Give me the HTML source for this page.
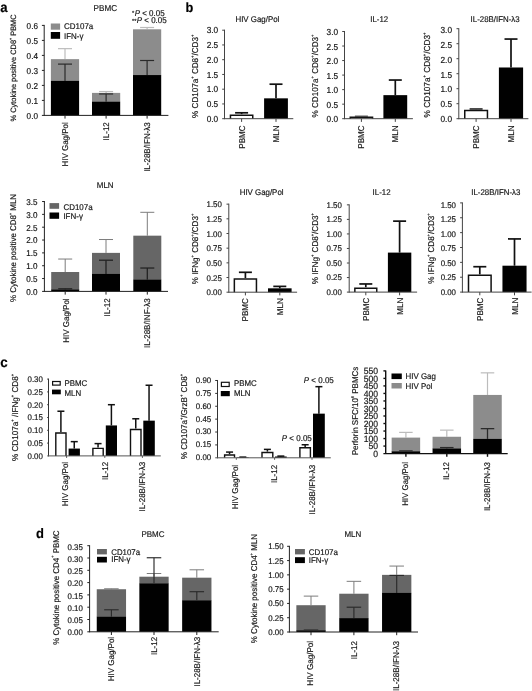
<!DOCTYPE html>
<html><head><meta charset="utf-8"><title>Figure</title>
<style>
html,body{margin:0;padding:0;background:#fff;}
body{width:532px;height:691px;overflow:hidden;font-family:"Liberation Sans",sans-serif;}
svg{display:block;will-change:transform;opacity:0.999;}
svg text{font-family:"Liberation Sans",sans-serif;stroke:#222;stroke-width:0.18px;text-rendering:geometricPrecision;}
</style></head><body>
<svg width="532" height="691" viewBox="0 0 532 691">
<rect x="0" y="0" width="532" height="691" fill="#fff"/>
<line x1="65.00" y1="59.15" x2="65.00" y2="48.65" stroke="#bcbcbc" stroke-width="1.2"/>
<line x1="58.00" y1="48.65" x2="72.00" y2="48.65" stroke="#bcbcbc" stroke-width="1.2"/>
<rect x="50.90" y="59.15" width="28.20" height="22.05" fill="#8c8c8c"/>
<rect x="50.90" y="80.90" width="28.20" height="34.50" fill="#000"/>
<line x1="65.00" y1="80.90" x2="65.00" y2="64.10" stroke="#2a2a2a" stroke-width="1.2"/>
<line x1="58.00" y1="64.10" x2="72.00" y2="64.10" stroke="#2a2a2a" stroke-width="1.2"/>
<line x1="106.10" y1="92.90" x2="106.10" y2="91.55" stroke="#bcbcbc" stroke-width="1.2"/>
<line x1="99.10" y1="91.55" x2="113.10" y2="91.55" stroke="#bcbcbc" stroke-width="1.2"/>
<rect x="92.00" y="92.90" width="28.20" height="9.15" fill="#8c8c8c"/>
<rect x="92.00" y="101.75" width="28.20" height="13.65" fill="#000"/>
<line x1="106.10" y1="101.75" x2="106.10" y2="93.95" stroke="#2a2a2a" stroke-width="1.2"/>
<line x1="99.10" y1="93.95" x2="113.10" y2="93.95" stroke="#2a2a2a" stroke-width="1.2"/>
<line x1="147.10" y1="29.30" x2="147.10" y2="27.50" stroke="#bcbcbc" stroke-width="1.2"/>
<line x1="140.10" y1="27.50" x2="154.10" y2="27.50" stroke="#bcbcbc" stroke-width="1.2"/>
<rect x="133.00" y="29.30" width="28.20" height="46.05" fill="#8c8c8c"/>
<rect x="133.00" y="75.05" width="28.20" height="40.35" fill="#000"/>
<line x1="147.10" y1="75.05" x2="147.10" y2="60.50" stroke="#2a2a2a" stroke-width="1.2"/>
<line x1="140.10" y1="60.50" x2="154.10" y2="60.50" stroke="#2a2a2a" stroke-width="1.2"/>
<line x1="44.20" y1="24.90" x2="44.20" y2="115.90" stroke="#222" stroke-width="1.0"/>
<line x1="41.90" y1="115.40" x2="168.40" y2="115.40" stroke="#222" stroke-width="1.0"/>
<text transform="translate(38.00 118.56) scale(0.9524 1)" font-size="8.61" text-anchor="end" fill="#111">0.0</text>
<line x1="41.90" y1="100.40" x2="44.20" y2="100.40" stroke="#222" stroke-width="1.0"/>
<text transform="translate(38.00 103.56) scale(0.9524 1)" font-size="8.61" text-anchor="end" fill="#111">0.1</text>
<line x1="41.90" y1="85.40" x2="44.20" y2="85.40" stroke="#222" stroke-width="1.0"/>
<text transform="translate(38.00 88.56) scale(0.9524 1)" font-size="8.61" text-anchor="end" fill="#111">0.2</text>
<line x1="41.90" y1="70.40" x2="44.20" y2="70.40" stroke="#222" stroke-width="1.0"/>
<text transform="translate(38.00 73.56) scale(0.9524 1)" font-size="8.61" text-anchor="end" fill="#111">0.3</text>
<line x1="41.90" y1="55.40" x2="44.20" y2="55.40" stroke="#222" stroke-width="1.0"/>
<text transform="translate(38.00 58.56) scale(0.9524 1)" font-size="8.61" text-anchor="end" fill="#111">0.4</text>
<line x1="41.90" y1="40.40" x2="44.20" y2="40.40" stroke="#222" stroke-width="1.0"/>
<text transform="translate(38.00 43.56) scale(0.9524 1)" font-size="8.61" text-anchor="end" fill="#111">0.5</text>
<line x1="41.90" y1="25.40" x2="44.20" y2="25.40" stroke="#222" stroke-width="1.0"/>
<text transform="translate(38.00 28.56) scale(0.9524 1)" font-size="8.61" text-anchor="end" fill="#111">0.6</text>
<line x1="65.00" y1="115.40" x2="65.00" y2="118.60" stroke="#222" stroke-width="1.0"/>
<line x1="106.10" y1="115.40" x2="106.10" y2="118.60" stroke="#222" stroke-width="1.0"/>
<line x1="147.10" y1="115.40" x2="147.10" y2="118.60" stroke="#222" stroke-width="1.0"/>
<rect x="50.80" y="23.50" width="9.30" height="6.20" fill="#8c8c8c"/>
<rect x="50.80" y="32.00" width="9.30" height="6.80" fill="#000"/>
<text transform="translate(64.00 28.70) scale(0.9524 1)" font-size="8.40" fill="#111">CD107a</text>
<text transform="translate(64.00 38.70) scale(0.9524 1)" font-size="8.40" fill="#111">IFN-&#947;</text>
<text transform="translate(105.30 10.60) scale(0.9524 1)" font-size="8.51" text-anchor="middle" fill="#111">PBMC</text>
<text transform="translate(164.60 15.80) scale(0.9524 1)" font-size="8.40" text-anchor="end" fill="#111"><tspan font-size="6" dy="-0.6">*</tspan><tspan dy="0.6" dx="0.4" font-style="italic">P</tspan> &lt; 0.05</text>
<text transform="translate(166.70 23.30) scale(0.9524 1)" font-size="8.40" text-anchor="end" fill="#111"><tspan font-size="6" dy="-0.6">**</tspan><tspan dy="0.6" dx="0.4" font-style="italic">P</tspan> &lt; 0.05</text>
<text transform="translate(15.50 67.90) rotate(-90) scale(0.9524 1)" font-size="7.77" text-anchor="middle" fill="#111">% Cytokine positive CD8<tspan dy="-3.89" font-size="3.89">+</tspan><tspan dy="3.89" font-size="7.77">&#8203;</tspan> PBMC</text>
<text transform="translate(67.91 122.20) rotate(-90) scale(0.9524 1)" font-size="8.40" text-anchor="end" fill="#111">HIV Gag/Pol</text>
<text transform="translate(109.11 122.20) rotate(-90) scale(0.9524 1)" font-size="8.40" text-anchor="end" fill="#111">IL-12</text>
<text transform="translate(150.31 122.20) rotate(-90) scale(0.9524 1)" font-size="8.40" text-anchor="end" fill="#111">IL-28B/IFN-&#955;3</text>
<text transform="translate(0.20 11.80) scale(0.9524 1)" font-size="13.86" font-weight="bold" fill="#000">a</text>
<line x1="65.20" y1="272.01" x2="65.20" y2="259.04" stroke="#7c7c7c" stroke-width="1.0"/>
<line x1="58.20" y1="259.04" x2="72.20" y2="259.04" stroke="#7c7c7c" stroke-width="1.0"/>
<rect x="51.20" y="272.01" width="28.00" height="17.76" fill="#666"/>
<rect x="51.20" y="289.47" width="28.00" height="1.93" fill="#000"/>
<line x1="65.20" y1="289.47" x2="65.20" y2="288.83" stroke="#222" stroke-width="1.3"/>
<line x1="58.20" y1="288.83" x2="72.20" y2="288.83" stroke="#222" stroke-width="1.3"/>
<line x1="106.00" y1="252.88" x2="106.00" y2="239.53" stroke="#7c7c7c" stroke-width="1.0"/>
<line x1="99.00" y1="239.53" x2="113.00" y2="239.53" stroke="#7c7c7c" stroke-width="1.0"/>
<rect x="92.00" y="252.88" width="28.00" height="21.36" fill="#666"/>
<rect x="92.00" y="273.94" width="28.00" height="17.46" fill="#000"/>
<line x1="106.00" y1="273.94" x2="106.00" y2="260.20" stroke="#222" stroke-width="1.3"/>
<line x1="99.00" y1="260.20" x2="113.00" y2="260.20" stroke="#222" stroke-width="1.3"/>
<line x1="147.30" y1="235.67" x2="147.30" y2="212.31" stroke="#7c7c7c" stroke-width="1.0"/>
<line x1="140.30" y1="212.31" x2="154.30" y2="212.31" stroke="#7c7c7c" stroke-width="1.0"/>
<rect x="133.30" y="235.67" width="28.00" height="44.34" fill="#666"/>
<rect x="133.30" y="279.72" width="28.00" height="11.68" fill="#000"/>
<line x1="147.30" y1="279.72" x2="147.30" y2="268.03" stroke="#222" stroke-width="1.3"/>
<line x1="140.30" y1="268.03" x2="154.30" y2="268.03" stroke="#222" stroke-width="1.3"/>
<line x1="44.40" y1="201.02" x2="44.40" y2="291.90" stroke="#222" stroke-width="1.0"/>
<line x1="42.10" y1="291.40" x2="168.00" y2="291.40" stroke="#222" stroke-width="1.0"/>
<text transform="translate(37.40 294.72) scale(0.9524 1)" font-size="8.51" text-anchor="end" fill="#111">0.0</text>
<line x1="42.10" y1="278.56" x2="44.40" y2="278.56" stroke="#222" stroke-width="1.0"/>
<text transform="translate(37.40 281.88) scale(0.9524 1)" font-size="8.51" text-anchor="end" fill="#111">0.5</text>
<line x1="42.10" y1="265.72" x2="44.40" y2="265.72" stroke="#222" stroke-width="1.0"/>
<text transform="translate(37.40 269.04) scale(0.9524 1)" font-size="8.51" text-anchor="end" fill="#111">1.0</text>
<line x1="42.10" y1="252.88" x2="44.40" y2="252.88" stroke="#222" stroke-width="1.0"/>
<text transform="translate(37.40 256.20) scale(0.9524 1)" font-size="8.51" text-anchor="end" fill="#111">1.5</text>
<line x1="42.10" y1="240.04" x2="44.40" y2="240.04" stroke="#222" stroke-width="1.0"/>
<text transform="translate(37.40 243.36) scale(0.9524 1)" font-size="8.51" text-anchor="end" fill="#111">2.0</text>
<line x1="42.10" y1="227.20" x2="44.40" y2="227.20" stroke="#222" stroke-width="1.0"/>
<text transform="translate(37.40 230.52) scale(0.9524 1)" font-size="8.51" text-anchor="end" fill="#111">2.5</text>
<line x1="42.10" y1="214.36" x2="44.40" y2="214.36" stroke="#222" stroke-width="1.0"/>
<text transform="translate(37.40 217.68) scale(0.9524 1)" font-size="8.51" text-anchor="end" fill="#111">3.0</text>
<line x1="42.10" y1="201.52" x2="44.40" y2="201.52" stroke="#222" stroke-width="1.0"/>
<text transform="translate(37.40 204.84) scale(0.9524 1)" font-size="8.51" text-anchor="end" fill="#111">3.5</text>
<line x1="65.20" y1="291.40" x2="65.20" y2="294.60" stroke="#222" stroke-width="1.0"/>
<line x1="106.00" y1="291.40" x2="106.00" y2="294.60" stroke="#222" stroke-width="1.0"/>
<line x1="147.30" y1="291.40" x2="147.30" y2="294.60" stroke="#222" stroke-width="1.0"/>
<rect x="49.50" y="203.10" width="9.60" height="5.70" fill="#666"/>
<rect x="49.50" y="212.50" width="9.60" height="6.30" fill="#000"/>
<text transform="translate(63.40 209.60) scale(0.9524 1)" font-size="8.40" fill="#111">CD107a</text>
<text transform="translate(63.40 218.80) scale(0.9524 1)" font-size="8.40" fill="#111">IFN-&#947;</text>
<text transform="translate(105.20 188.20) scale(0.9524 1)" font-size="8.40" text-anchor="middle" fill="#111">MLN</text>
<text transform="translate(16.30 248.00) rotate(-90) scale(0.9524 1)" font-size="8.29" text-anchor="middle" fill="#111">% Cytokine positive CD8<tspan dy="-4.15" font-size="4.15">+</tspan><tspan dy="4.15" font-size="8.29">&#8203;</tspan> MLN</text>
<text transform="translate(68.61 298.40) rotate(-90) scale(0.9524 1)" font-size="8.40" text-anchor="end" fill="#111">HIV Gag/Pol</text>
<text transform="translate(109.71 298.40) rotate(-90) scale(0.9524 1)" font-size="8.40" text-anchor="end" fill="#111">IL-12</text>
<text transform="translate(150.21 298.40) rotate(-90) scale(0.9524 1)" font-size="8.40" text-anchor="end" fill="#111">IL-28B/INF-&#955;3</text>
<line x1="241.60" y1="114.39" x2="241.60" y2="112.80" stroke="#111" stroke-width="1.7"/>
<line x1="235.10" y1="112.80" x2="248.10" y2="112.80" stroke="#111" stroke-width="1.7"/>
<rect x="229.70" y="114.39" width="23.80" height="4.31" fill="#fff"/>
<path d="M230.45 118.70 V115.14 H252.75 V118.70" fill="none" stroke="#111" stroke-width="1.5"/>
<line x1="276.00" y1="98.34" x2="276.00" y2="84.19" stroke="#111" stroke-width="1.7"/>
<line x1="269.50" y1="84.19" x2="282.50" y2="84.19" stroke="#111" stroke-width="1.7"/>
<rect x="264.10" y="98.34" width="23.80" height="20.36" fill="#000"/>
<line x1="224.50" y1="29.70" x2="224.50" y2="119.20" stroke="#444" stroke-width="1.0"/>
<line x1="222.20" y1="118.70" x2="293.30" y2="118.70" stroke="#444" stroke-width="1.0"/>
<text transform="translate(218.20 121.89) scale(0.9524 1)" font-size="8.72" text-anchor="end" fill="#111">0.0</text>
<line x1="222.20" y1="103.95" x2="224.50" y2="103.95" stroke="#444" stroke-width="1.0"/>
<text transform="translate(218.20 107.14) scale(0.9524 1)" font-size="8.72" text-anchor="end" fill="#111">0.5</text>
<line x1="222.20" y1="89.20" x2="224.50" y2="89.20" stroke="#444" stroke-width="1.0"/>
<text transform="translate(218.20 92.39) scale(0.9524 1)" font-size="8.72" text-anchor="end" fill="#111">1.0</text>
<line x1="222.20" y1="74.45" x2="224.50" y2="74.45" stroke="#444" stroke-width="1.0"/>
<text transform="translate(218.20 77.64) scale(0.9524 1)" font-size="8.72" text-anchor="end" fill="#111">1.5</text>
<line x1="222.20" y1="59.70" x2="224.50" y2="59.70" stroke="#444" stroke-width="1.0"/>
<text transform="translate(218.20 62.89) scale(0.9524 1)" font-size="8.72" text-anchor="end" fill="#111">2.0</text>
<line x1="222.20" y1="44.95" x2="224.50" y2="44.95" stroke="#444" stroke-width="1.0"/>
<text transform="translate(218.20 48.14) scale(0.9524 1)" font-size="8.72" text-anchor="end" fill="#111">2.5</text>
<line x1="222.20" y1="30.20" x2="224.50" y2="30.20" stroke="#444" stroke-width="1.0"/>
<text transform="translate(218.20 33.39) scale(0.9524 1)" font-size="8.72" text-anchor="end" fill="#111">3.0</text>
<line x1="241.60" y1="118.70" x2="241.60" y2="121.90" stroke="#444" stroke-width="1.0"/>
<line x1="276.00" y1="118.70" x2="276.00" y2="121.90" stroke="#444" stroke-width="1.0"/>
<text transform="translate(257.40 22.30) scale(0.9524 1)" font-size="8.29" text-anchor="middle" fill="#111">HIV Gag/Pol</text>
<text transform="translate(197.90 76.30) rotate(-90) scale(0.9524 1)" font-size="8.53" text-anchor="middle" fill="#111">% CD107a<tspan dy="-4.26" font-size="4.26">+</tspan><tspan dy="4.26" font-size="8.53">&#8203;</tspan> CD8<tspan dy="-4.26" font-size="4.26">+</tspan><tspan dy="4.26" font-size="8.53">&#8203;</tspan>/CD3<tspan dy="-4.26" font-size="4.26">+</tspan><tspan dy="4.26" font-size="8.53">&#8203;</tspan></text>
<text transform="translate(244.63 125.40) rotate(-90) scale(0.9524 1)" font-size="8.45" text-anchor="end" fill="#111">PBMC</text>
<text transform="translate(279.03 125.40) rotate(-90) scale(0.9524 1)" font-size="8.45" text-anchor="end" fill="#111">MLN</text>
<line x1="361.40" y1="116.52" x2="361.40" y2="116.52" stroke="#111" stroke-width="1.7"/>
<line x1="354.90" y1="116.52" x2="367.90" y2="116.52" stroke="#111" stroke-width="1.7"/>
<rect x="349.50" y="116.52" width="23.80" height="2.18" fill="#fff"/>
<path d="M350.25 118.70 V117.27 H372.55 V118.70" fill="none" stroke="#111" stroke-width="1.5"/>
<line x1="395.30" y1="95.15" x2="395.30" y2="80.04" stroke="#111" stroke-width="1.7"/>
<line x1="388.80" y1="80.04" x2="401.80" y2="80.04" stroke="#111" stroke-width="1.7"/>
<rect x="383.40" y="95.15" width="23.80" height="23.55" fill="#000"/>
<line x1="344.50" y1="30.99" x2="344.50" y2="119.20" stroke="#444" stroke-width="1.0"/>
<line x1="342.20" y1="118.70" x2="412.90" y2="118.70" stroke="#444" stroke-width="1.0"/>
<text transform="translate(338.10 122.29) scale(0.9524 1)" font-size="8.72" text-anchor="end" fill="#111">0.0</text>
<line x1="342.20" y1="104.17" x2="344.50" y2="104.17" stroke="#444" stroke-width="1.0"/>
<text transform="translate(338.10 107.76) scale(0.9524 1)" font-size="8.72" text-anchor="end" fill="#111">0.5</text>
<line x1="342.20" y1="89.63" x2="344.50" y2="89.63" stroke="#444" stroke-width="1.0"/>
<text transform="translate(338.10 93.22) scale(0.9524 1)" font-size="8.72" text-anchor="end" fill="#111">1.0</text>
<line x1="342.20" y1="75.09" x2="344.50" y2="75.09" stroke="#444" stroke-width="1.0"/>
<text transform="translate(338.10 78.69) scale(0.9524 1)" font-size="8.72" text-anchor="end" fill="#111">1.5</text>
<line x1="342.20" y1="60.56" x2="344.50" y2="60.56" stroke="#444" stroke-width="1.0"/>
<text transform="translate(338.10 64.15) scale(0.9524 1)" font-size="8.72" text-anchor="end" fill="#111">2.0</text>
<line x1="342.20" y1="46.03" x2="344.50" y2="46.03" stroke="#444" stroke-width="1.0"/>
<text transform="translate(338.10 49.62) scale(0.9524 1)" font-size="8.72" text-anchor="end" fill="#111">2.5</text>
<line x1="342.20" y1="31.49" x2="344.50" y2="31.49" stroke="#444" stroke-width="1.0"/>
<text transform="translate(338.10 35.08) scale(0.9524 1)" font-size="8.72" text-anchor="end" fill="#111">3.0</text>
<line x1="361.40" y1="118.70" x2="361.40" y2="121.90" stroke="#444" stroke-width="1.0"/>
<line x1="395.30" y1="118.70" x2="395.30" y2="121.90" stroke="#444" stroke-width="1.0"/>
<text transform="translate(379.20 22.30) scale(0.9524 1)" font-size="8.29" text-anchor="middle" fill="#111">IL-12</text>
<text transform="translate(317.80 76.00) rotate(-90) scale(0.9524 1)" font-size="8.48" text-anchor="middle" fill="#111">% CD107a<tspan dy="-4.24" font-size="4.24">+</tspan><tspan dy="4.24" font-size="8.48">&#8203;</tspan> CD8<tspan dy="-4.24" font-size="4.24">+</tspan><tspan dy="4.24" font-size="8.48">&#8203;</tspan>/CD3<tspan dy="-4.24" font-size="4.24">+</tspan><tspan dy="4.24" font-size="8.48">&#8203;</tspan></text>
<text transform="translate(364.43 125.40) rotate(-90) scale(0.9524 1)" font-size="8.45" text-anchor="end" fill="#111">PBMC</text>
<text transform="translate(398.33 125.40) rotate(-90) scale(0.9524 1)" font-size="8.45" text-anchor="end" fill="#111">MLN</text>
<line x1="476.10" y1="109.70" x2="476.10" y2="109.10" stroke="#111" stroke-width="1.7"/>
<line x1="469.60" y1="109.10" x2="482.60" y2="109.10" stroke="#111" stroke-width="1.7"/>
<rect x="464.00" y="109.70" width="24.20" height="9.00" fill="#fff"/>
<path d="M464.75 118.70 V110.45 H487.45 V118.70" fill="none" stroke="#111" stroke-width="1.5"/>
<line x1="511.00" y1="67.49" x2="511.00" y2="39.05" stroke="#111" stroke-width="1.7"/>
<line x1="504.50" y1="39.05" x2="517.50" y2="39.05" stroke="#111" stroke-width="1.7"/>
<rect x="498.90" y="67.49" width="24.20" height="51.21" fill="#000"/>
<line x1="458.80" y1="28.20" x2="458.80" y2="119.20" stroke="#444" stroke-width="1.0"/>
<line x1="456.50" y1="118.70" x2="528.40" y2="118.70" stroke="#444" stroke-width="1.0"/>
<text transform="translate(452.00 121.94) scale(0.9524 1)" font-size="8.72" text-anchor="end" fill="#111">0.0</text>
<line x1="456.50" y1="103.70" x2="458.80" y2="103.70" stroke="#444" stroke-width="1.0"/>
<text transform="translate(452.00 107.16) scale(0.9524 1)" font-size="8.72" text-anchor="end" fill="#111">0.5</text>
<line x1="456.50" y1="88.70" x2="458.80" y2="88.70" stroke="#444" stroke-width="1.0"/>
<text transform="translate(452.00 92.38) scale(0.9524 1)" font-size="8.72" text-anchor="end" fill="#111">1.0</text>
<line x1="456.50" y1="73.70" x2="458.80" y2="73.70" stroke="#444" stroke-width="1.0"/>
<text transform="translate(452.00 77.59) scale(0.9524 1)" font-size="8.72" text-anchor="end" fill="#111">1.5</text>
<line x1="456.50" y1="58.70" x2="458.80" y2="58.70" stroke="#444" stroke-width="1.0"/>
<text transform="translate(452.00 62.81) scale(0.9524 1)" font-size="8.72" text-anchor="end" fill="#111">2.0</text>
<line x1="456.50" y1="43.70" x2="458.80" y2="43.70" stroke="#444" stroke-width="1.0"/>
<text transform="translate(452.00 48.03) scale(0.9524 1)" font-size="8.72" text-anchor="end" fill="#111">2.5</text>
<line x1="456.50" y1="28.70" x2="458.80" y2="28.70" stroke="#444" stroke-width="1.0"/>
<text transform="translate(452.00 33.24) scale(0.9524 1)" font-size="8.72" text-anchor="end" fill="#111">3.0</text>
<line x1="476.10" y1="118.70" x2="476.10" y2="121.90" stroke="#444" stroke-width="1.0"/>
<line x1="511.00" y1="118.70" x2="511.00" y2="121.90" stroke="#444" stroke-width="1.0"/>
<text transform="translate(495.10 22.30) scale(0.9524 1)" font-size="8.29" text-anchor="middle" fill="#111">IL-28B/IFN-&#955;3</text>
<text transform="translate(430.30 75.00) rotate(-90) scale(0.9524 1)" font-size="8.68" text-anchor="middle" fill="#111">% CD107a<tspan dy="-4.34" font-size="4.34">+</tspan><tspan dy="4.34" font-size="8.68">&#8203;</tspan> CD8<tspan dy="-4.34" font-size="4.34">+</tspan><tspan dy="4.34" font-size="8.68">&#8203;</tspan>/CD3<tspan dy="-4.34" font-size="4.34">+</tspan><tspan dy="4.34" font-size="8.68">&#8203;</tspan></text>
<text transform="translate(479.13 125.40) rotate(-90) scale(0.9524 1)" font-size="8.45" text-anchor="end" fill="#111">PBMC</text>
<text transform="translate(514.03 125.40) rotate(-90) scale(0.9524 1)" font-size="8.45" text-anchor="end" fill="#111">MLN</text>
<line x1="245.40" y1="278.29" x2="245.40" y2="272.30" stroke="#111" stroke-width="1.7"/>
<line x1="238.90" y1="272.30" x2="251.90" y2="272.30" stroke="#111" stroke-width="1.7"/>
<rect x="233.60" y="278.29" width="23.60" height="13.91" fill="#fff"/>
<path d="M234.35 292.20 V279.04 H256.45 V292.20" fill="none" stroke="#111" stroke-width="1.5"/>
<line x1="279.80" y1="288.33" x2="279.80" y2="286.39" stroke="#111" stroke-width="1.7"/>
<line x1="273.30" y1="286.39" x2="286.30" y2="286.39" stroke="#111" stroke-width="1.7"/>
<rect x="268.00" y="288.33" width="23.60" height="3.87" fill="#000"/>
<line x1="228.80" y1="203.65" x2="228.80" y2="292.70" stroke="#444" stroke-width="1.0"/>
<line x1="226.50" y1="292.20" x2="297.10" y2="292.20" stroke="#444" stroke-width="1.0"/>
<text transform="translate(221.90 295.44) scale(0.9524 1)" font-size="8.29" text-anchor="end" fill="#111">0.00</text>
<line x1="226.50" y1="277.52" x2="228.80" y2="277.52" stroke="#444" stroke-width="1.0"/>
<text transform="translate(221.90 280.77) scale(0.9524 1)" font-size="8.29" text-anchor="end" fill="#111">0.25</text>
<line x1="226.50" y1="262.85" x2="228.80" y2="262.85" stroke="#444" stroke-width="1.0"/>
<text transform="translate(221.90 266.09) scale(0.9524 1)" font-size="8.29" text-anchor="end" fill="#111">0.50</text>
<line x1="226.50" y1="248.17" x2="228.80" y2="248.17" stroke="#444" stroke-width="1.0"/>
<text transform="translate(221.90 251.42) scale(0.9524 1)" font-size="8.29" text-anchor="end" fill="#111">0.75</text>
<line x1="226.50" y1="233.50" x2="228.80" y2="233.50" stroke="#444" stroke-width="1.0"/>
<text transform="translate(221.90 236.74) scale(0.9524 1)" font-size="8.29" text-anchor="end" fill="#111">1.00</text>
<line x1="226.50" y1="218.82" x2="228.80" y2="218.82" stroke="#444" stroke-width="1.0"/>
<text transform="translate(221.90 222.07) scale(0.9524 1)" font-size="8.29" text-anchor="end" fill="#111">1.25</text>
<line x1="226.50" y1="204.15" x2="228.80" y2="204.15" stroke="#444" stroke-width="1.0"/>
<text transform="translate(221.90 207.39) scale(0.9524 1)" font-size="8.29" text-anchor="end" fill="#111">1.50</text>
<line x1="245.40" y1="292.20" x2="245.40" y2="295.40" stroke="#444" stroke-width="1.0"/>
<line x1="279.80" y1="292.20" x2="279.80" y2="295.40" stroke="#444" stroke-width="1.0"/>
<text transform="translate(261.60 195.30) scale(0.9524 1)" font-size="8.29" text-anchor="middle" fill="#111">HIV Gag/Pol</text>
<text transform="translate(198.10 249.00) rotate(-90) scale(0.9524 1)" font-size="8.45" text-anchor="middle" fill="#111">% IFNg<tspan dy="-4.23" font-size="4.23">+</tspan><tspan dy="4.23" font-size="8.45">&#8203;</tspan> CD8<tspan dy="-4.23" font-size="4.23">+</tspan><tspan dy="4.23" font-size="8.45">&#8203;</tspan>/CD3<tspan dy="-4.23" font-size="4.23">+</tspan><tspan dy="4.23" font-size="8.45">&#8203;</tspan></text>
<text transform="translate(248.43 298.20) rotate(-90) scale(0.9524 1)" font-size="8.45" text-anchor="end" fill="#111">PBMC</text>
<text transform="translate(282.83 298.20) rotate(-90) scale(0.9524 1)" font-size="8.45" text-anchor="end" fill="#111">MLN</text>
<line x1="365.80" y1="287.50" x2="365.80" y2="283.96" stroke="#111" stroke-width="1.7"/>
<line x1="359.30" y1="283.96" x2="372.30" y2="283.96" stroke="#111" stroke-width="1.7"/>
<rect x="354.10" y="287.50" width="23.40" height="4.60" fill="#fff"/>
<path d="M354.85 292.10 V288.25 H376.75 V292.10" fill="none" stroke="#111" stroke-width="1.5"/>
<line x1="399.60" y1="252.60" x2="399.60" y2="221.13" stroke="#111" stroke-width="1.7"/>
<line x1="393.10" y1="221.13" x2="406.10" y2="221.13" stroke="#111" stroke-width="1.7"/>
<rect x="387.90" y="252.60" width="23.40" height="39.50" fill="#000"/>
<line x1="349.20" y1="204.35" x2="349.20" y2="292.60" stroke="#444" stroke-width="1.0"/>
<line x1="346.90" y1="292.10" x2="417.10" y2="292.10" stroke="#444" stroke-width="1.0"/>
<text transform="translate(341.90 294.94) scale(0.9524 1)" font-size="8.29" text-anchor="end" fill="#111">0.00</text>
<line x1="346.90" y1="277.56" x2="349.20" y2="277.56" stroke="#444" stroke-width="1.0"/>
<text transform="translate(341.90 280.40) scale(0.9524 1)" font-size="8.29" text-anchor="end" fill="#111">0.25</text>
<line x1="346.90" y1="263.02" x2="349.20" y2="263.02" stroke="#444" stroke-width="1.0"/>
<text transform="translate(341.90 265.86) scale(0.9524 1)" font-size="8.29" text-anchor="end" fill="#111">0.50</text>
<line x1="346.90" y1="248.47" x2="349.20" y2="248.47" stroke="#444" stroke-width="1.0"/>
<text transform="translate(341.90 251.32) scale(0.9524 1)" font-size="8.29" text-anchor="end" fill="#111">0.75</text>
<line x1="346.90" y1="233.93" x2="349.20" y2="233.93" stroke="#444" stroke-width="1.0"/>
<text transform="translate(341.90 236.77) scale(0.9524 1)" font-size="8.29" text-anchor="end" fill="#111">1.00</text>
<line x1="346.90" y1="219.39" x2="349.20" y2="219.39" stroke="#444" stroke-width="1.0"/>
<text transform="translate(341.90 222.23) scale(0.9524 1)" font-size="8.29" text-anchor="end" fill="#111">1.25</text>
<line x1="346.90" y1="204.85" x2="349.20" y2="204.85" stroke="#444" stroke-width="1.0"/>
<text transform="translate(341.90 207.69) scale(0.9524 1)" font-size="8.29" text-anchor="end" fill="#111">1.50</text>
<line x1="365.80" y1="292.10" x2="365.80" y2="295.30" stroke="#444" stroke-width="1.0"/>
<line x1="399.60" y1="292.10" x2="399.60" y2="295.30" stroke="#444" stroke-width="1.0"/>
<text transform="translate(381.60 195.30) scale(0.9524 1)" font-size="8.29" text-anchor="middle" fill="#111">IL-12</text>
<text transform="translate(318.20 248.60) rotate(-90) scale(0.9524 1)" font-size="8.53" text-anchor="middle" fill="#111">% IFNg<tspan dy="-4.26" font-size="4.26">+</tspan><tspan dy="4.26" font-size="8.53">&#8203;</tspan> CD8<tspan dy="-4.26" font-size="4.26">+</tspan><tspan dy="4.26" font-size="8.53">&#8203;</tspan>/CD3<tspan dy="-4.26" font-size="4.26">+</tspan><tspan dy="4.26" font-size="8.53">&#8203;</tspan></text>
<text transform="translate(368.83 297.70) rotate(-90) scale(0.9524 1)" font-size="8.45" text-anchor="end" fill="#111">PBMC</text>
<text transform="translate(402.63 297.70) rotate(-90) scale(0.9524 1)" font-size="8.45" text-anchor="end" fill="#111">MLN</text>
<line x1="479.80" y1="274.62" x2="479.80" y2="266.71" stroke="#111" stroke-width="1.7"/>
<line x1="473.30" y1="266.71" x2="486.30" y2="266.71" stroke="#111" stroke-width="1.7"/>
<rect x="467.75" y="274.62" width="24.10" height="17.48" fill="#fff"/>
<path d="M468.50 292.10 V275.37 H491.10 V292.10" fill="none" stroke="#111" stroke-width="1.5"/>
<line x1="514.50" y1="265.70" x2="514.50" y2="238.93" stroke="#111" stroke-width="1.7"/>
<line x1="508.00" y1="238.93" x2="521.00" y2="238.93" stroke="#111" stroke-width="1.7"/>
<rect x="502.45" y="265.70" width="24.10" height="26.40" fill="#000"/>
<line x1="462.40" y1="202.40" x2="462.40" y2="292.60" stroke="#444" stroke-width="1.0"/>
<line x1="460.10" y1="292.10" x2="531.60" y2="292.10" stroke="#444" stroke-width="1.0"/>
<text transform="translate(456.00 294.54) scale(0.9524 1)" font-size="8.29" text-anchor="end" fill="#111">0.00</text>
<line x1="460.10" y1="277.23" x2="462.40" y2="277.23" stroke="#444" stroke-width="1.0"/>
<text transform="translate(456.00 280.09) scale(0.9524 1)" font-size="8.29" text-anchor="end" fill="#111">0.25</text>
<line x1="460.10" y1="262.37" x2="462.40" y2="262.37" stroke="#444" stroke-width="1.0"/>
<text transform="translate(456.00 265.63) scale(0.9524 1)" font-size="8.29" text-anchor="end" fill="#111">0.50</text>
<line x1="460.10" y1="247.50" x2="462.40" y2="247.50" stroke="#444" stroke-width="1.0"/>
<text transform="translate(456.00 251.17) scale(0.9524 1)" font-size="8.29" text-anchor="end" fill="#111">0.75</text>
<line x1="460.10" y1="232.63" x2="462.40" y2="232.63" stroke="#444" stroke-width="1.0"/>
<text transform="translate(456.00 236.71) scale(0.9524 1)" font-size="8.29" text-anchor="end" fill="#111">1.00</text>
<line x1="460.10" y1="217.76" x2="462.40" y2="217.76" stroke="#444" stroke-width="1.0"/>
<text transform="translate(456.00 222.25) scale(0.9524 1)" font-size="8.29" text-anchor="end" fill="#111">1.25</text>
<line x1="460.10" y1="202.90" x2="462.40" y2="202.90" stroke="#444" stroke-width="1.0"/>
<text transform="translate(456.00 207.79) scale(0.9524 1)" font-size="8.29" text-anchor="end" fill="#111">1.50</text>
<line x1="479.80" y1="292.10" x2="479.80" y2="295.30" stroke="#444" stroke-width="1.0"/>
<line x1="514.50" y1="292.10" x2="514.50" y2="295.30" stroke="#444" stroke-width="1.0"/>
<text transform="translate(495.80 195.10) scale(0.9524 1)" font-size="8.29" text-anchor="middle" fill="#111">IL-28B/IFN-&#955;3</text>
<text transform="translate(434.40 248.60) rotate(-90) scale(0.9524 1)" font-size="8.45" text-anchor="middle" fill="#111">% IFNg<tspan dy="-4.23" font-size="4.23">+</tspan><tspan dy="4.23" font-size="8.45">&#8203;</tspan> CD8<tspan dy="-4.23" font-size="4.23">+</tspan><tspan dy="4.23" font-size="8.45">&#8203;</tspan>/CD3<tspan dy="-4.23" font-size="4.23">+</tspan><tspan dy="4.23" font-size="8.45">&#8203;</tspan></text>
<text transform="translate(482.83 297.70) rotate(-90) scale(0.9524 1)" font-size="8.45" text-anchor="end" fill="#111">PBMC</text>
<text transform="translate(517.53 297.70) rotate(-90) scale(0.9524 1)" font-size="8.45" text-anchor="end" fill="#111">MLN</text>
<text transform="translate(185.50 11.80) scale(0.9524 1)" font-size="13.44" font-weight="bold" fill="#000">b</text>
<line x1="60.90" y1="432.35" x2="60.90" y2="411.23" stroke="#111" stroke-width="1.5"/>
<line x1="57.40" y1="411.23" x2="64.40" y2="411.23" stroke="#111" stroke-width="1.5"/>
<rect x="55.10" y="432.35" width="11.60" height="23.55" fill="#fff"/>
<path d="M55.80 455.90 V433.05 H66.00 V455.90" fill="none" stroke="#111" stroke-width="1.4"/>
<line x1="74.25" y1="448.58" x2="74.25" y2="441.64" stroke="#111" stroke-width="1.5"/>
<line x1="70.75" y1="441.64" x2="77.75" y2="441.64" stroke="#111" stroke-width="1.5"/>
<rect x="68.60" y="448.58" width="11.30" height="7.32" fill="#000"/>
<line x1="98.05" y1="447.71" x2="98.05" y2="443.61" stroke="#111" stroke-width="1.5"/>
<line x1="94.55" y1="443.61" x2="101.55" y2="443.61" stroke="#111" stroke-width="1.5"/>
<rect x="92.20" y="447.71" width="11.70" height="8.19" fill="#fff"/>
<path d="M92.90 455.90 V448.41 H103.20 V455.90" fill="none" stroke="#111" stroke-width="1.4"/>
<line x1="111.40" y1="425.44" x2="111.40" y2="404.70" stroke="#111" stroke-width="1.5"/>
<line x1="107.90" y1="404.70" x2="114.90" y2="404.70" stroke="#111" stroke-width="1.5"/>
<rect x="105.80" y="425.44" width="11.20" height="30.46" fill="#000"/>
<line x1="135.75" y1="428.76" x2="135.75" y2="418.78" stroke="#111" stroke-width="1.5"/>
<line x1="132.25" y1="418.78" x2="139.25" y2="418.78" stroke="#111" stroke-width="1.5"/>
<rect x="129.80" y="428.76" width="11.90" height="27.14" fill="#fff"/>
<path d="M130.50 455.90 V429.46 H141.00 V455.90" fill="none" stroke="#111" stroke-width="1.4"/>
<line x1="149.05" y1="420.65" x2="149.05" y2="385.24" stroke="#111" stroke-width="1.5"/>
<line x1="145.55" y1="385.24" x2="152.55" y2="385.24" stroke="#111" stroke-width="1.5"/>
<rect x="143.30" y="420.65" width="11.50" height="35.25" fill="#000"/>
<line x1="48.50" y1="378.60" x2="48.50" y2="456.40" stroke="#333" stroke-width="1.0"/>
<line x1="47.20" y1="455.90" x2="160.80" y2="455.90" stroke="#555" stroke-width="1.0"/>
<text transform="translate(42.90 458.74) scale(0.9524 1)" font-size="8.29" text-anchor="end" fill="#111">0.00</text>
<line x1="47.20" y1="443.10" x2="48.50" y2="443.10" stroke="#333" stroke-width="1.0"/>
<text transform="translate(42.90 445.94) scale(0.9524 1)" font-size="8.29" text-anchor="end" fill="#111">0.05</text>
<line x1="47.20" y1="430.30" x2="48.50" y2="430.30" stroke="#333" stroke-width="1.0"/>
<text transform="translate(42.90 433.14) scale(0.9524 1)" font-size="8.29" text-anchor="end" fill="#111">0.10</text>
<line x1="47.20" y1="417.50" x2="48.50" y2="417.50" stroke="#333" stroke-width="1.0"/>
<text transform="translate(42.90 420.34) scale(0.9524 1)" font-size="8.29" text-anchor="end" fill="#111">0.15</text>
<line x1="47.20" y1="404.70" x2="48.50" y2="404.70" stroke="#333" stroke-width="1.0"/>
<text transform="translate(42.90 407.54) scale(0.9524 1)" font-size="8.29" text-anchor="end" fill="#111">0.20</text>
<line x1="47.20" y1="391.90" x2="48.50" y2="391.90" stroke="#333" stroke-width="1.0"/>
<text transform="translate(42.90 394.74) scale(0.9524 1)" font-size="8.29" text-anchor="end" fill="#111">0.25</text>
<line x1="47.20" y1="379.10" x2="48.50" y2="379.10" stroke="#333" stroke-width="1.0"/>
<text transform="translate(42.90 381.94) scale(0.9524 1)" font-size="8.29" text-anchor="end" fill="#111">0.30</text>
<line x1="66.60" y1="455.90" x2="66.60" y2="457.90" stroke="#555" stroke-width="1.0"/>
<line x1="104.80" y1="455.90" x2="104.80" y2="457.90" stroke="#555" stroke-width="1.0"/>
<line x1="142.40" y1="455.90" x2="142.40" y2="457.90" stroke="#555" stroke-width="1.0"/>
<rect x="52.60" y="381.50" width="7.60" height="3.60" fill="#fff" stroke="#111" stroke-width="1.2"/>
<rect x="52.00" y="389.60" width="8.80" height="4.70" fill="#000"/>
<text transform="translate(64.50 386.20) scale(0.9524 1)" font-size="8.29" fill="#111">PBMC</text>
<text transform="translate(64.50 395.50) scale(0.9524 1)" font-size="8.29" fill="#111">MLN</text>
<text transform="translate(18.40 417.50) rotate(-90) scale(0.9524 1)" font-size="8.56" text-anchor="middle" fill="#111">% CD107a<tspan dy="-4.28" font-size="4.28">+</tspan><tspan dy="4.28" font-size="8.56">&#8203;</tspan> /IFNg<tspan dy="-4.28" font-size="4.28">+</tspan><tspan dy="4.28" font-size="8.56">&#8203;</tspan> CD8<tspan dy="-4.28" font-size="4.28">+</tspan><tspan dy="4.28" font-size="8.56">&#8203;</tspan></text>
<text transform="translate(68.41 461.90) rotate(-90) scale(0.9524 1)" font-size="8.40" text-anchor="end" fill="#111">HIV Gag/Pol</text>
<text transform="translate(107.71 461.90) rotate(-90) scale(0.9524 1)" font-size="8.40" text-anchor="end" fill="#111">IL-12</text>
<text transform="translate(145.21 461.90) rotate(-90) scale(0.9524 1)" font-size="8.40" text-anchor="end" fill="#111">IL-28B/IFN-&#955;3</text>
<text transform="translate(0.20 366.50) scale(0.9524 1)" font-size="14.07" font-weight="bold" fill="#000">c</text>
<line x1="229.55" y1="454.36" x2="229.55" y2="452.08" stroke="#111" stroke-width="1.5"/>
<line x1="226.05" y1="452.08" x2="233.05" y2="452.08" stroke="#111" stroke-width="1.5"/>
<rect x="223.90" y="454.36" width="11.30" height="3.44" fill="#fff"/>
<path d="M224.60 457.80 V455.06 H234.50 V457.80" fill="none" stroke="#111" stroke-width="1.4"/>
<line x1="242.85" y1="457.37" x2="242.85" y2="457.11" stroke="#111" stroke-width="1.5"/>
<line x1="239.35" y1="457.11" x2="246.35" y2="457.11" stroke="#111" stroke-width="1.5"/>
<rect x="237.00" y="457.37" width="11.70" height="0.43" fill="#000"/>
<line x1="267.40" y1="451.79" x2="267.40" y2="449.38" stroke="#111" stroke-width="1.5"/>
<line x1="263.90" y1="449.38" x2="270.90" y2="449.38" stroke="#111" stroke-width="1.5"/>
<rect x="261.30" y="451.79" width="12.20" height="6.01" fill="#fff"/>
<path d="M262.00 457.80 V452.49 H272.80 V457.80" fill="none" stroke="#111" stroke-width="1.4"/>
<line x1="280.85" y1="456.51" x2="280.85" y2="456.08" stroke="#111" stroke-width="1.5"/>
<line x1="277.35" y1="456.08" x2="284.35" y2="456.08" stroke="#111" stroke-width="1.5"/>
<rect x="275.00" y="456.51" width="11.70" height="1.29" fill="#000"/>
<line x1="305.15" y1="447.06" x2="305.15" y2="444.74" stroke="#111" stroke-width="1.5"/>
<line x1="301.65" y1="444.74" x2="308.65" y2="444.74" stroke="#111" stroke-width="1.5"/>
<rect x="299.20" y="447.06" width="11.90" height="10.74" fill="#fff"/>
<path d="M299.90 457.80 V447.76 H310.40 V457.80" fill="none" stroke="#111" stroke-width="1.4"/>
<line x1="318.90" y1="413.65" x2="318.90" y2="386.67" stroke="#111" stroke-width="1.5"/>
<line x1="315.40" y1="386.67" x2="322.40" y2="386.67" stroke="#111" stroke-width="1.5"/>
<rect x="313.00" y="413.65" width="11.80" height="44.15" fill="#000"/>
<line x1="217.50" y1="379.99" x2="217.50" y2="458.30" stroke="#333" stroke-width="1.0"/>
<line x1="215.20" y1="457.80" x2="330.80" y2="457.80" stroke="#555" stroke-width="1.0"/>
<text transform="translate(211.20 460.24) scale(0.9524 1)" font-size="8.29" text-anchor="end" fill="#111">0.00</text>
<line x1="215.20" y1="444.92" x2="217.50" y2="444.92" stroke="#333" stroke-width="1.0"/>
<text transform="translate(211.20 447.36) scale(0.9524 1)" font-size="8.29" text-anchor="end" fill="#111">0.15</text>
<line x1="215.20" y1="432.03" x2="217.50" y2="432.03" stroke="#333" stroke-width="1.0"/>
<text transform="translate(211.20 434.47) scale(0.9524 1)" font-size="8.29" text-anchor="end" fill="#111">0.30</text>
<line x1="215.20" y1="419.14" x2="217.50" y2="419.14" stroke="#333" stroke-width="1.0"/>
<text transform="translate(211.20 421.59) scale(0.9524 1)" font-size="8.29" text-anchor="end" fill="#111">0.45</text>
<line x1="215.20" y1="406.26" x2="217.50" y2="406.26" stroke="#333" stroke-width="1.0"/>
<text transform="translate(211.20 408.70) scale(0.9524 1)" font-size="8.29" text-anchor="end" fill="#111">0.60</text>
<line x1="215.20" y1="393.38" x2="217.50" y2="393.38" stroke="#333" stroke-width="1.0"/>
<text transform="translate(211.20 395.82) scale(0.9524 1)" font-size="8.29" text-anchor="end" fill="#111">0.75</text>
<line x1="215.20" y1="380.49" x2="217.50" y2="380.49" stroke="#333" stroke-width="1.0"/>
<text transform="translate(211.20 382.93) scale(0.9524 1)" font-size="8.29" text-anchor="end" fill="#111">0.90</text>
<line x1="236.30" y1="457.80" x2="236.30" y2="459.80" stroke="#555" stroke-width="1.0"/>
<line x1="274.60" y1="457.80" x2="274.60" y2="459.80" stroke="#555" stroke-width="1.0"/>
<line x1="312.00" y1="457.80" x2="312.00" y2="459.80" stroke="#555" stroke-width="1.0"/>
<rect x="221.40" y="382.30" width="7.80" height="4.20" fill="#fff" stroke="#111" stroke-width="1.2"/>
<rect x="220.80" y="391.00" width="9.00" height="5.20" fill="#000"/>
<text transform="translate(233.90 386.20) scale(0.9524 1)" font-size="8.29" fill="#111">PBMC</text>
<text transform="translate(233.90 395.50) scale(0.9524 1)" font-size="8.29" fill="#111">MLN</text>
<text transform="translate(187.30 416.50) rotate(-90) scale(0.9524 1)" font-size="8.51" text-anchor="middle" fill="#111">% CD107a<tspan dy="-4.25" font-size="4.25">+</tspan><tspan dy="4.25" font-size="8.51">&#8203;</tspan>/GrzB<tspan dy="-4.25" font-size="4.25">+</tspan><tspan dy="4.25" font-size="8.51">&#8203;</tspan> CD8<tspan dy="-4.25" font-size="4.25">+</tspan><tspan dy="4.25" font-size="8.51">&#8203;</tspan></text>
<text transform="translate(238.31 464.90) rotate(-90) scale(0.9524 1)" font-size="8.40" text-anchor="end" fill="#111">HIV Gag/Pol</text>
<text transform="translate(276.91 464.90) rotate(-90) scale(0.9524 1)" font-size="8.40" text-anchor="end" fill="#111">IL-12</text>
<text transform="translate(314.91 464.90) rotate(-90) scale(0.9524 1)" font-size="8.40" text-anchor="end" fill="#111">IL-28B/IFN-&#955;3</text>
<text transform="translate(318.80 382.90) scale(0.9524 1)" font-size="8.40" text-anchor="middle" fill="#111"><tspan font-style="italic">P</tspan> &lt; 0.05</text>
<text transform="translate(296.80 440.50) scale(0.9524 1)" font-size="8.40" text-anchor="middle" fill="#111"><tspan font-style="italic">P</tspan> &lt; 0.05</text>
<line x1="405.90" y1="437.60" x2="405.90" y2="432.39" stroke="#bcbcbc" stroke-width="1.2"/>
<line x1="399.15" y1="432.39" x2="412.65" y2="432.39" stroke="#bcbcbc" stroke-width="1.2"/>
<rect x="391.65" y="437.60" width="28.50" height="14.05" fill="#8c8c8c"/>
<rect x="391.65" y="451.34" width="28.50" height="2.26" fill="#000"/>
<line x1="405.90" y1="451.34" x2="405.90" y2="450.89" stroke="#2a2a2a" stroke-width="1.3"/>
<line x1="399.15" y1="450.89" x2="412.65" y2="450.89" stroke="#2a2a2a" stroke-width="1.3"/>
<line x1="446.80" y1="436.76" x2="446.80" y2="430.14" stroke="#bcbcbc" stroke-width="1.2"/>
<line x1="440.05" y1="430.14" x2="453.55" y2="430.14" stroke="#bcbcbc" stroke-width="1.2"/>
<rect x="432.55" y="436.76" width="28.50" height="12.03" fill="#8c8c8c"/>
<rect x="432.55" y="448.49" width="28.50" height="5.11" fill="#000"/>
<line x1="446.80" y1="448.49" x2="446.80" y2="447.58" stroke="#2a2a2a" stroke-width="1.3"/>
<line x1="440.05" y1="447.58" x2="453.55" y2="447.58" stroke="#2a2a2a" stroke-width="1.3"/>
<line x1="487.50" y1="394.94" x2="487.50" y2="372.84" stroke="#bcbcbc" stroke-width="1.2"/>
<line x1="480.75" y1="372.84" x2="494.25" y2="372.84" stroke="#bcbcbc" stroke-width="1.2"/>
<rect x="473.25" y="394.94" width="28.50" height="44.28" fill="#8c8c8c"/>
<rect x="473.25" y="438.92" width="28.50" height="14.68" fill="#000"/>
<line x1="487.50" y1="438.92" x2="487.50" y2="428.63" stroke="#2a2a2a" stroke-width="1.3"/>
<line x1="480.75" y1="428.63" x2="494.25" y2="428.63" stroke="#2a2a2a" stroke-width="1.3"/>
<line x1="385.70" y1="370.38" x2="385.70" y2="454.10" stroke="#111" stroke-width="1.4"/>
<line x1="383.40" y1="453.60" x2="507.70" y2="453.60" stroke="#111" stroke-width="1.4"/>
<text transform="translate(378.00 457.01) scale(0.9524 1)" font-size="9.03" text-anchor="end" fill="#111">0</text>
<line x1="383.40" y1="446.08" x2="385.70" y2="446.08" stroke="#111" stroke-width="1.4"/>
<text transform="translate(378.00 449.49) scale(0.9524 1)" font-size="9.03" text-anchor="end" fill="#111">50</text>
<line x1="383.40" y1="438.56" x2="385.70" y2="438.56" stroke="#111" stroke-width="1.4"/>
<text transform="translate(378.00 441.97) scale(0.9524 1)" font-size="9.03" text-anchor="end" fill="#111">100</text>
<line x1="383.40" y1="431.04" x2="385.70" y2="431.04" stroke="#111" stroke-width="1.4"/>
<text transform="translate(378.00 434.45) scale(0.9524 1)" font-size="9.03" text-anchor="end" fill="#111">150</text>
<line x1="383.40" y1="423.52" x2="385.70" y2="423.52" stroke="#111" stroke-width="1.4"/>
<text transform="translate(378.00 426.93) scale(0.9524 1)" font-size="9.03" text-anchor="end" fill="#111">200</text>
<line x1="383.40" y1="416.00" x2="385.70" y2="416.00" stroke="#111" stroke-width="1.4"/>
<text transform="translate(378.00 419.41) scale(0.9524 1)" font-size="9.03" text-anchor="end" fill="#111">250</text>
<line x1="383.40" y1="408.48" x2="385.70" y2="408.48" stroke="#111" stroke-width="1.4"/>
<text transform="translate(378.00 411.89) scale(0.9524 1)" font-size="9.03" text-anchor="end" fill="#111">300</text>
<line x1="383.40" y1="400.96" x2="385.70" y2="400.96" stroke="#111" stroke-width="1.4"/>
<text transform="translate(378.00 404.37) scale(0.9524 1)" font-size="9.03" text-anchor="end" fill="#111">350</text>
<line x1="383.40" y1="393.44" x2="385.70" y2="393.44" stroke="#111" stroke-width="1.4"/>
<text transform="translate(378.00 396.85) scale(0.9524 1)" font-size="9.03" text-anchor="end" fill="#111">400</text>
<line x1="383.40" y1="385.92" x2="385.70" y2="385.92" stroke="#111" stroke-width="1.4"/>
<text transform="translate(378.00 389.33) scale(0.9524 1)" font-size="9.03" text-anchor="end" fill="#111">450</text>
<line x1="383.40" y1="378.40" x2="385.70" y2="378.40" stroke="#111" stroke-width="1.4"/>
<text transform="translate(378.00 381.81) scale(0.9524 1)" font-size="9.03" text-anchor="end" fill="#111">500</text>
<line x1="383.40" y1="370.88" x2="385.70" y2="370.88" stroke="#111" stroke-width="1.4"/>
<text transform="translate(378.00 374.29) scale(0.9524 1)" font-size="9.03" text-anchor="end" fill="#111">550</text>
<line x1="405.90" y1="453.60" x2="405.90" y2="456.80" stroke="#111" stroke-width="1.4"/>
<line x1="446.80" y1="453.60" x2="446.80" y2="456.80" stroke="#111" stroke-width="1.4"/>
<line x1="487.50" y1="453.60" x2="487.50" y2="456.80" stroke="#111" stroke-width="1.4"/>
<rect x="391.50" y="373.50" width="10.30" height="5.60" fill="#000"/>
<rect x="391.50" y="383.00" width="10.30" height="5.50" fill="#8c8c8c"/>
<text transform="translate(405.60 378.70) scale(0.9524 1)" font-size="8.29" fill="#111">HIV Gag</text>
<text transform="translate(405.60 388.60) scale(0.9524 1)" font-size="8.29" fill="#111">HIV Pol</text>
<text transform="translate(358.10 411.00) rotate(-90) scale(0.9524 1)" font-size="8.40" text-anchor="middle" fill="#111">Perforin SFC/10<tspan dy="-4.20" font-size="4.20">6</tspan><tspan dy="4.20" font-size="8.40">&#8203;</tspan> PBMCs</text>
<text transform="translate(407.97 462.00) rotate(-90) scale(0.9524 1)" font-size="8.29" text-anchor="end" fill="#111">HIV Gag/Pol</text>
<text transform="translate(448.87 462.00) rotate(-90) scale(0.9524 1)" font-size="8.29" text-anchor="end" fill="#111">IL-12</text>
<text transform="translate(489.57 462.00) rotate(-90) scale(0.9524 1)" font-size="8.29" text-anchor="end" fill="#111">IL-28B/IFN-&#955;3</text>
<line x1="111.40" y1="589.24" x2="111.40" y2="588.75" stroke="#7c7c7c" stroke-width="1.0"/>
<line x1="104.15" y1="588.75" x2="118.65" y2="588.75" stroke="#7c7c7c" stroke-width="1.0"/>
<rect x="96.75" y="589.24" width="29.30" height="27.85" fill="#666"/>
<rect x="96.75" y="616.79" width="29.30" height="15.01" fill="#000"/>
<line x1="111.40" y1="616.79" x2="111.40" y2="609.78" stroke="#2a2a2a" stroke-width="1.15"/>
<line x1="104.15" y1="609.78" x2="118.65" y2="609.78" stroke="#2a2a2a" stroke-width="1.15"/>
<line x1="154.00" y1="576.70" x2="154.00" y2="573.50" stroke="#7c7c7c" stroke-width="1.0"/>
<line x1="146.75" y1="573.50" x2="161.25" y2="573.50" stroke="#7c7c7c" stroke-width="1.0"/>
<rect x="139.35" y="576.70" width="29.30" height="6.94" fill="#666"/>
<rect x="139.35" y="583.34" width="29.30" height="48.46" fill="#000"/>
<line x1="154.00" y1="583.34" x2="154.00" y2="557.75" stroke="#2a2a2a" stroke-width="1.15"/>
<line x1="146.75" y1="557.75" x2="161.25" y2="557.75" stroke="#2a2a2a" stroke-width="1.15"/>
<line x1="196.80" y1="577.68" x2="196.80" y2="569.81" stroke="#7c7c7c" stroke-width="1.0"/>
<line x1="189.55" y1="569.81" x2="204.05" y2="569.81" stroke="#7c7c7c" stroke-width="1.0"/>
<rect x="182.15" y="577.68" width="29.30" height="22.93" fill="#666"/>
<rect x="182.15" y="600.31" width="29.30" height="31.49" fill="#000"/>
<line x1="196.80" y1="600.31" x2="196.80" y2="591.70" stroke="#2a2a2a" stroke-width="1.15"/>
<line x1="189.55" y1="591.70" x2="204.05" y2="591.70" stroke="#2a2a2a" stroke-width="1.15"/>
<line x1="89.60" y1="545.20" x2="89.60" y2="632.30" stroke="#222" stroke-width="1.0"/>
<line x1="87.30" y1="631.80" x2="218.70" y2="631.80" stroke="#222" stroke-width="1.0"/>
<text transform="translate(82.90 635.04) scale(0.9524 1)" font-size="8.29" text-anchor="end" fill="#111">0.00</text>
<line x1="87.30" y1="619.50" x2="89.60" y2="619.50" stroke="#222" stroke-width="1.0"/>
<text transform="translate(82.90 622.90) scale(0.9524 1)" font-size="8.29" text-anchor="end" fill="#111">0.05</text>
<line x1="87.30" y1="607.20" x2="89.60" y2="607.20" stroke="#222" stroke-width="1.0"/>
<text transform="translate(82.90 610.76) scale(0.9524 1)" font-size="8.29" text-anchor="end" fill="#111">0.10</text>
<line x1="87.30" y1="594.90" x2="89.60" y2="594.90" stroke="#222" stroke-width="1.0"/>
<text transform="translate(82.90 598.62) scale(0.9524 1)" font-size="8.29" text-anchor="end" fill="#111">0.15</text>
<line x1="87.30" y1="582.60" x2="89.60" y2="582.60" stroke="#222" stroke-width="1.0"/>
<text transform="translate(82.90 586.47) scale(0.9524 1)" font-size="8.29" text-anchor="end" fill="#111">0.20</text>
<line x1="87.30" y1="570.30" x2="89.60" y2="570.30" stroke="#222" stroke-width="1.0"/>
<text transform="translate(82.90 574.33) scale(0.9524 1)" font-size="8.29" text-anchor="end" fill="#111">0.25</text>
<line x1="87.30" y1="558.00" x2="89.60" y2="558.00" stroke="#222" stroke-width="1.0"/>
<text transform="translate(82.90 562.19) scale(0.9524 1)" font-size="8.29" text-anchor="end" fill="#111">0.30</text>
<line x1="87.30" y1="545.70" x2="89.60" y2="545.70" stroke="#222" stroke-width="1.0"/>
<text transform="translate(82.90 550.04) scale(0.9524 1)" font-size="8.29" text-anchor="end" fill="#111">0.35</text>
<line x1="111.40" y1="631.80" x2="111.40" y2="635.00" stroke="#222" stroke-width="1.0"/>
<line x1="154.00" y1="631.80" x2="154.00" y2="635.00" stroke="#222" stroke-width="1.0"/>
<line x1="196.80" y1="631.80" x2="196.80" y2="635.00" stroke="#222" stroke-width="1.0"/>
<rect x="97.00" y="549.00" width="9.90" height="5.40" fill="#666"/>
<rect x="97.00" y="556.80" width="9.90" height="5.70" fill="#000"/>
<text transform="translate(111.20 554.50) scale(0.9524 1)" font-size="8.29" fill="#111">CD107a</text>
<text transform="translate(111.20 562.40) scale(0.9524 1)" font-size="8.29" fill="#111">IFN-&#947;</text>
<text transform="translate(152.90 536.70) scale(0.9524 1)" font-size="8.40" text-anchor="middle" fill="#111">PBMC</text>
<text transform="translate(58.60 587.60) rotate(-90) scale(0.9524 1)" font-size="8.29" text-anchor="middle" fill="#111">% Cytokine positive CD4<tspan dy="-4.15" font-size="4.15">+</tspan><tspan dy="4.15" font-size="8.29">&#8203;</tspan> PBMC</text>
<text transform="translate(114.41 636.90) rotate(-90) scale(0.9524 1)" font-size="8.40" text-anchor="end" fill="#111">HIV Gag/Pol</text>
<text transform="translate(157.21 636.90) rotate(-90) scale(0.9524 1)" font-size="8.40" text-anchor="end" fill="#111">IL-12</text>
<text transform="translate(199.81 636.90) rotate(-90) scale(0.9524 1)" font-size="8.40" text-anchor="end" fill="#111">IL-28B/IFN-&#955;3</text>
<text transform="translate(36.10 537.60) scale(0.9524 1)" font-size="13.65" font-weight="bold" fill="#000">d</text>
<line x1="311.00" y1="605.21" x2="311.00" y2="596.12" stroke="#7c7c7c" stroke-width="1.0"/>
<line x1="303.75" y1="596.12" x2="318.25" y2="596.12" stroke="#7c7c7c" stroke-width="1.0"/>
<rect x="296.35" y="605.21" width="29.30" height="25.38" fill="#666"/>
<rect x="296.35" y="630.29" width="29.30" height="1.71" fill="#000"/>
<line x1="311.00" y1="630.29" x2="311.00" y2="630.00" stroke="#2a2a2a" stroke-width="1.15"/>
<line x1="303.75" y1="630.00" x2="318.25" y2="630.00" stroke="#2a2a2a" stroke-width="1.15"/>
<line x1="353.90" y1="593.72" x2="353.90" y2="581.33" stroke="#7c7c7c" stroke-width="1.0"/>
<line x1="346.65" y1="581.33" x2="361.15" y2="581.33" stroke="#7c7c7c" stroke-width="1.0"/>
<rect x="339.25" y="593.72" width="29.30" height="24.69" fill="#666"/>
<rect x="339.25" y="618.12" width="29.30" height="13.88" fill="#000"/>
<line x1="353.90" y1="618.12" x2="353.90" y2="607.21" stroke="#2a2a2a" stroke-width="1.15"/>
<line x1="346.65" y1="607.21" x2="361.15" y2="607.21" stroke="#2a2a2a" stroke-width="1.15"/>
<line x1="396.70" y1="574.87" x2="396.70" y2="566.07" stroke="#7c7c7c" stroke-width="1.0"/>
<line x1="389.45" y1="566.07" x2="403.95" y2="566.07" stroke="#7c7c7c" stroke-width="1.0"/>
<rect x="382.05" y="574.87" width="29.30" height="18.35" fill="#666"/>
<rect x="382.05" y="592.92" width="29.30" height="39.08" fill="#000"/>
<line x1="396.70" y1="592.92" x2="396.70" y2="575.44" stroke="#2a2a2a" stroke-width="1.15"/>
<line x1="389.45" y1="575.44" x2="403.95" y2="575.44" stroke="#2a2a2a" stroke-width="1.15"/>
<line x1="289.40" y1="545.80" x2="289.40" y2="632.50" stroke="#222" stroke-width="1.0"/>
<line x1="287.10" y1="632.00" x2="418.00" y2="632.00" stroke="#222" stroke-width="1.0"/>
<text transform="translate(283.60 635.04) scale(0.9524 1)" font-size="8.29" text-anchor="end" fill="#111">0.00</text>
<line x1="287.10" y1="617.72" x2="289.40" y2="617.72" stroke="#222" stroke-width="1.0"/>
<text transform="translate(283.60 620.76) scale(0.9524 1)" font-size="8.29" text-anchor="end" fill="#111">0.25</text>
<line x1="287.10" y1="603.43" x2="289.40" y2="603.43" stroke="#222" stroke-width="1.0"/>
<text transform="translate(283.60 606.48) scale(0.9524 1)" font-size="8.29" text-anchor="end" fill="#111">0.50</text>
<line x1="287.10" y1="589.15" x2="289.40" y2="589.15" stroke="#222" stroke-width="1.0"/>
<text transform="translate(283.60 592.20) scale(0.9524 1)" font-size="8.29" text-anchor="end" fill="#111">0.75</text>
<line x1="287.10" y1="574.87" x2="289.40" y2="574.87" stroke="#222" stroke-width="1.0"/>
<text transform="translate(283.60 577.91) scale(0.9524 1)" font-size="8.29" text-anchor="end" fill="#111">1.00</text>
<line x1="287.10" y1="560.59" x2="289.40" y2="560.59" stroke="#222" stroke-width="1.0"/>
<text transform="translate(283.60 563.63) scale(0.9524 1)" font-size="8.29" text-anchor="end" fill="#111">1.25</text>
<line x1="287.10" y1="546.30" x2="289.40" y2="546.30" stroke="#222" stroke-width="1.0"/>
<text transform="translate(283.60 549.35) scale(0.9524 1)" font-size="8.29" text-anchor="end" fill="#111">1.50</text>
<line x1="311.00" y1="632.00" x2="311.00" y2="635.20" stroke="#222" stroke-width="1.0"/>
<line x1="353.90" y1="632.00" x2="353.90" y2="635.20" stroke="#222" stroke-width="1.0"/>
<line x1="396.70" y1="632.00" x2="396.70" y2="635.20" stroke="#222" stroke-width="1.0"/>
<rect x="295.00" y="549.00" width="9.90" height="5.40" fill="#666"/>
<rect x="295.00" y="557.20" width="9.90" height="5.90" fill="#000"/>
<text transform="translate(308.70 554.60) scale(0.9524 1)" font-size="8.40" fill="#111">CD107a</text>
<text transform="translate(308.70 563.00) scale(0.9524 1)" font-size="8.40" fill="#111">IFN-&#947;</text>
<text transform="translate(352.90 536.70) scale(0.9524 1)" font-size="8.40" text-anchor="middle" fill="#111">MLN</text>
<text transform="translate(257.30 588.60) rotate(-90) scale(0.9524 1)" font-size="8.40" text-anchor="middle" fill="#111">% Cytokine positive CD4<tspan dy="-4.20" font-size="4.20">+</tspan><tspan dy="4.20" font-size="8.40">&#8203;</tspan> MLN</text>
<text transform="translate(312.53 641.00) rotate(-90) scale(0.9524 1)" font-size="8.45" text-anchor="end" fill="#111">HIV Gag/Pol</text>
<text transform="translate(357.33 641.00) rotate(-90) scale(0.9524 1)" font-size="8.45" text-anchor="end" fill="#111">IL-12</text>
<text transform="translate(399.03 641.00) rotate(-90) scale(0.9524 1)" font-size="8.45" text-anchor="end" fill="#111">IL-28B/IFN-&#955;3</text>
</svg>
</body></html>
